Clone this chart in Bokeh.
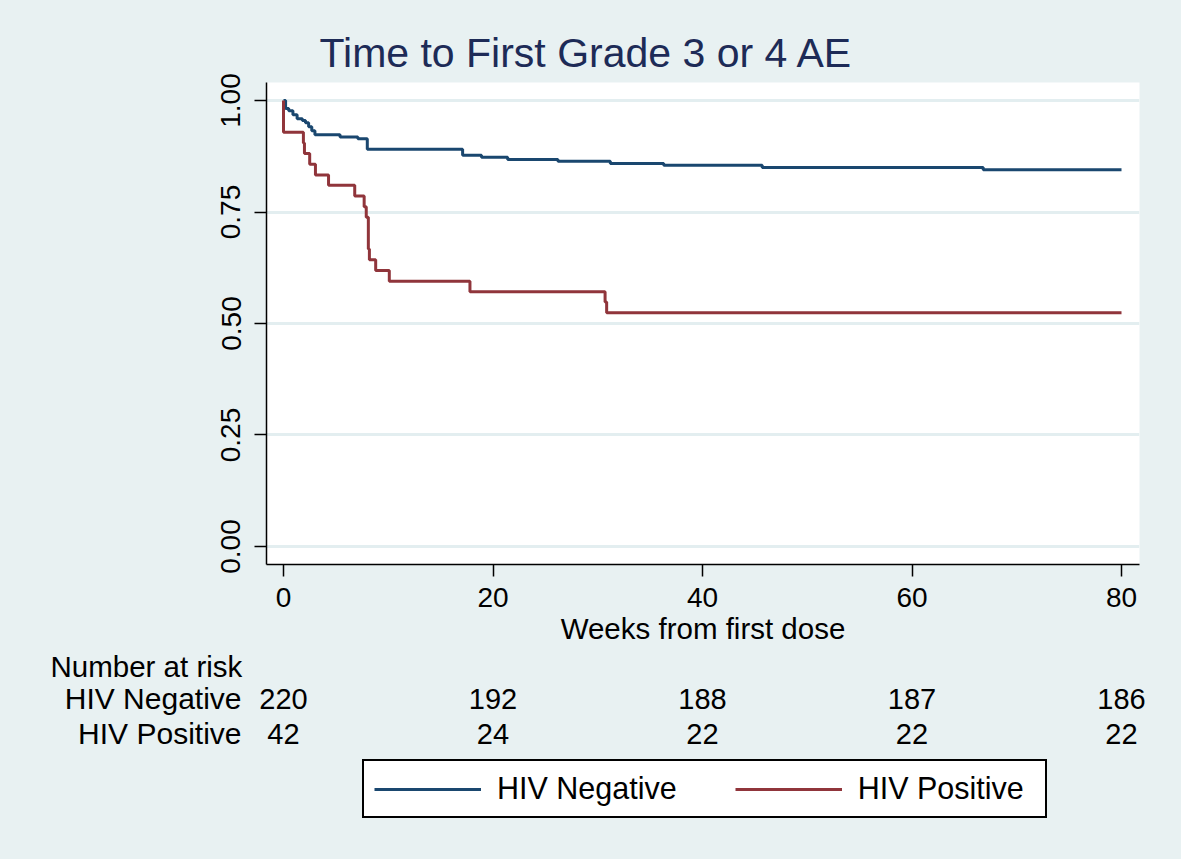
from bokeh.plotting import figure
from bokeh.layouts import column
from bokeh.models import Range1d, FixedTicker, Legend, LegendItem, ColumnDataSource
from bokeh.core.properties import value
from bokeh.embed import file_html
from bokeh.resources import INLINE

# ---- data ----
weeks_neg = [0, 0.2, 0.5, 0.9, 1.3, 1.8, 2.1, 2.4, 2.7, 3.0, 5.4, 7.1, 8.0,
             17.1, 18.9, 21.4, 26.2, 31.2, 36.3, 45.7, 66.8, 80]
surv_neg = [1.0, 0.982, 0.977, 0.968, 0.959, 0.955, 0.950, 0.941, 0.932, 0.923,
            0.918, 0.914, 0.891, 0.877, 0.873, 0.868, 0.864, 0.859, 0.855,
            0.850, 0.845, 0.845]

weeks_pos = [0, 0, 1.9, 2.0, 2.5, 3.05, 4.3, 6.8, 7.7, 7.9, 8.1, 8.2, 8.8,
             10.1, 17.8, 30.7, 30.85, 80]
surv_pos = [1.0, 0.929, 0.905, 0.881, 0.857, 0.833, 0.810, 0.786, 0.762, 0.738,
            0.667, 0.643, 0.619, 0.595, 0.571, 0.548, 0.524, 0.524]

risk_times = [0, 20, 40, 60, 80]
risk_neg = [220, 192, 188, 187, 186]
risk_pos = [42, 24, 22, 22, 22]

group_names = ["HIV Negative", "HIV Positive"]
x_ticks = [0, 20, 40, 60, 80]
y_ticks = [0, 0.25, 0.5, 0.75, 1.0]
y_tick_labels = ["0.00", "0.25", "0.50", "0.75", "1.00"]

title_text = "Time to First Grade 3 or 4 AE"
x_label = "Weeks from first dose"
risk_header = "Number at risk"

# ---- styling ----
BG = "#E8F1F2"
BLUE = "#1A476F"
RED = "#90353B"
FONT = "Liberation Sans"
W = 1181
H_TOP = 650
H_BOT = 859 - H_TOP
PXW = 10.475          # pixels per week (shared by both panels)
X0 = 283              # pixel of week 0

p = figure(width=W, height=H_TOP,
           x_range=Range1d((266 - X0) / PXW, (1139 - X0) / PXW),
           y_range=Range1d(-0.0404, 1.0404),
           output_backend="svg", toolbar_location=None,
           min_border_left=266, min_border_right=W - 1139,
           min_border_top=82, min_border_bottom=H_TOP - 564)
p.frame_align = False
p.background_fill_color = "white"
p.border_fill_color = BG
p.outline_line_color = None

r_neg = p.step(weeks_neg, surv_neg, mode="after", line_color=BLUE, line_width=3)
r_pos = p.step(weeks_pos, surv_pos, mode="after", line_color=RED, line_width=3)

p.title.text = title_text
p.title.text_font = FONT
p.title.text_font_size = "41px"
p.title.text_font_style = "normal"
p.title.text_color = "#1D2B57"
p.title.align = "left"
p.title.offset = 53
p.title.standoff = 14

p.xaxis.ticker = FixedTicker(ticks=x_ticks)
p.yaxis.ticker = FixedTicker(ticks=y_ticks)
p.yaxis.major_label_overrides = {t: l for t, l in zip(y_ticks, y_tick_labels)}
p.yaxis.major_label_orientation = "vertical"
for ax in (p.xaxis, p.yaxis):
    ax.axis_line_color = "black"
    ax.axis_line_width = 1.5
    ax.major_tick_line_color = "black"
    ax.major_tick_line_width = 1.5
    ax.major_tick_out = 12
    ax.major_tick_in = 0
    ax.minor_tick_line_color = None
    ax.major_label_text_font = FONT
    ax.major_label_text_font_size = "28px"
    ax.major_label_text_color = "black"
p.xaxis.major_label_standoff = 11
p.yaxis.major_label_standoff = 14
p.xaxis.axis_label = x_label
p.xaxis.axis_label_text_font = FONT
p.xaxis.axis_label_text_font_size = "29.5px"
p.xaxis.axis_label_text_font_style = "normal"
p.xaxis.axis_label_text_color = "black"
p.xaxis.axis_label_standoff = 2

p.xgrid.grid_line_color = None
p.ygrid.grid_line_color = "#E3EEF0"
p.ygrid.grid_line_width = 3

# ---- lower panel: number at risk table + legend, same week scale ----
q = figure(width=W, height=H_BOT,
           x_range=Range1d((0 - X0) / PXW, (W - X0) / PXW),
           y_range=Range1d(H_BOT, 0),
           x_axis_type=None, y_axis_type=None,
           output_backend="svg", toolbar_location=None,
           min_border=0, min_border_left=0, min_border_right=0,
           min_border_top=0, min_border_bottom=0)
q.frame_align = False
q.background_fill_color = BG
q.border_fill_color = BG
q.outline_line_color = None
q.xgrid.visible = False
q.ygrid.visible = False

def row_y(sy):
    return sy - H_TOP

label_x = (241 - X0) / PXW
head_x = (50 - X0) / PXW
q.text(x=[head_x], y=[row_y(666)], text=[risk_header], text_align="left",
       text_baseline="middle", text_font=value(FONT), text_font_size="29.5px",
       text_color="black")
for name, vals, sy in [(group_names[0], risk_neg, 698), (group_names[1], risk_pos, 733)]:
    q.text(x=[label_x], y=[row_y(sy)], text=[name], text_align="right",
           text_baseline="middle", text_font=value(FONT), text_font_size="30px",
           text_color="black")
    src = ColumnDataSource(dict(x=risk_times, y=[row_y(sy)] * len(vals),
                                t=[str(v) for v in vals]))
    q.text(x="x", y="y", text="t", source=src, text_align="center",
           text_baseline="middle", text_font=value(FONT), text_font_size="29px",
           text_color="black")

# legend glyph proxies
l_neg = q.line([0, 0], [0, 0], line_color=BLUE, line_width=3)
l_pos = q.line([0, 0], [0, 0], line_color=RED, line_width=3)

legend = Legend(items=[LegendItem(label=group_names[0], renderers=[l_neg]),
                       LegendItem(label=group_names[1], renderers=[l_pos])],
                orientation="horizontal", location=(362, H_BOT - 818 + H_TOP))
legend.label_text_font = FONT
legend.label_text_font_size = "30.5px"
legend.label_text_color = "black"
legend.glyph_width = 107
legend.glyph_height = 20
legend.label_width = 177
legend.label_standoff = 16
legend.spacing = 58
legend.padding = 10
legend.margin = 0
legend.border_line_color = "black"
legend.border_line_width = 2
legend.border_line_alpha = 1
legend.background_fill_color = "white"
legend.background_fill_alpha = 1
q.add_layout(legend, "center")

layout = column(p, q, spacing=0, styles={"background-color": BG})
open("out.html", "w").write(file_html(layout, INLINE))
